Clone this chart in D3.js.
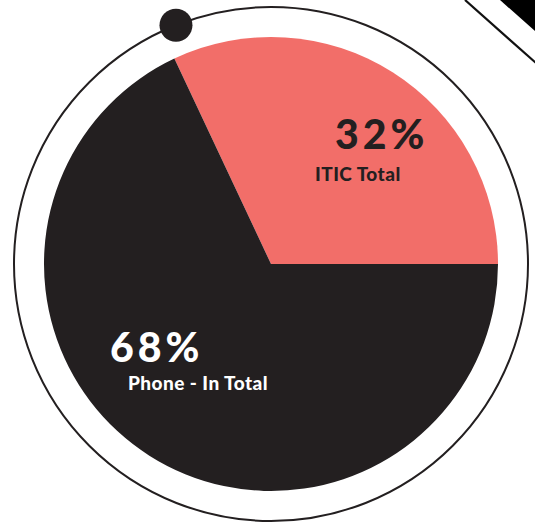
<!DOCTYPE html>
<html>
<head>
<meta charset="utf-8">
<script src="https://cdn.jsdelivr.net/npm/d3@7"></script>
<style>
  html, body { margin: 0; padding: 0; background: #ffffff; }
  svg { display: block; }
</style>
</head>
<body>
<svg id="chart" width="535" height="523"></svg>
<script>
// Share of totals by channel
const categories = ["ITIC Total", "Phone - In Total"];
const values = [32, 68];
const percentLabels = ["32%", "68%"];
const sliceColors = ["#f26e69", "#231f20"];
const labelColors = ["#231f20", "#ffffff"];

const svg = d3.select("#chart");
const cx = 271, cy = 264;
const radius = 227;
const ringRadius = 257;

// Decorative diagonal strokes in the top-right corner
const corner = svg.append("g").attr("class", "corner");
corner.append("line")
  .attr("x1", 465).attr("y1", 0)
  .attr("x2", 545).attr("y2", 71)
  .attr("stroke", "#111").attr("stroke-width", 2.2);
corner.append("polygon")
  .attr("points", "500,0 545,0 545,40")
  .attr("fill", "#000");

const g = svg.append("g").attr("transform", `translate(${cx},${cy})`);

// Outer ring with a marker dot
g.append("circle")
  .attr("r", ringRadius)
  .attr("fill", "none")
  .attr("stroke", "#231f20")
  .attr("stroke-width", 2);

const dotAngle = -21.7 * Math.PI / 180;
g.append("circle")
  .attr("cx", ringRadius * Math.sin(dotAngle))
  .attr("cy", -ringRadius * Math.cos(dotAngle))
  .attr("r", 16.5)
  .attr("fill", "#231f20");

// Pie: the first slice ends at 3 o'clock
const endFirst = Math.PI / 2;
const start = endFirst - 2 * Math.PI * values[0] / d3.sum(values);
const pie = d3.pie().sort(null).value(d => d)
  .startAngle(start).endAngle(start + 2 * Math.PI);
const arc = d3.arc().innerRadius(0).outerRadius(radius);

const arcs = pie(values);
g.selectAll("path.slice")
  .data(arcs)
  .join("path")
  .attr("class", "slice")
  .attr("d", arc)
  .attr("fill", (d, i) => sliceColors[i]);

// Labels
const labelLayout = [
  { px: 64, py: -115, cx: 44, cy: -83 },
  { px: -161, py: 98, cx: -143, cy: 126 }
];
const font = "Lato, 'Open Sans', sans-serif";
labelLayout.forEach((p, i) => {
  g.append("text")
    .attr("x", p.px).attr("y", p.py)
    .attr("font-family", font)
    .attr("font-weight", 900)
    .attr("font-size", 41)
    .attr("letter-spacing", 4)
    .attr("fill", labelColors[i])
    .text(percentLabels[i]);
  g.append("text")
    .attr("x", p.cx).attr("y", p.cy)
    .attr("font-family", font)
    .attr("font-weight", 900)
    .attr("font-size", 19)
    .attr("letter-spacing", 0.45)
    .attr("fill", labelColors[i])
    .text(categories[i]);
});
</script>
</body>
</html>
